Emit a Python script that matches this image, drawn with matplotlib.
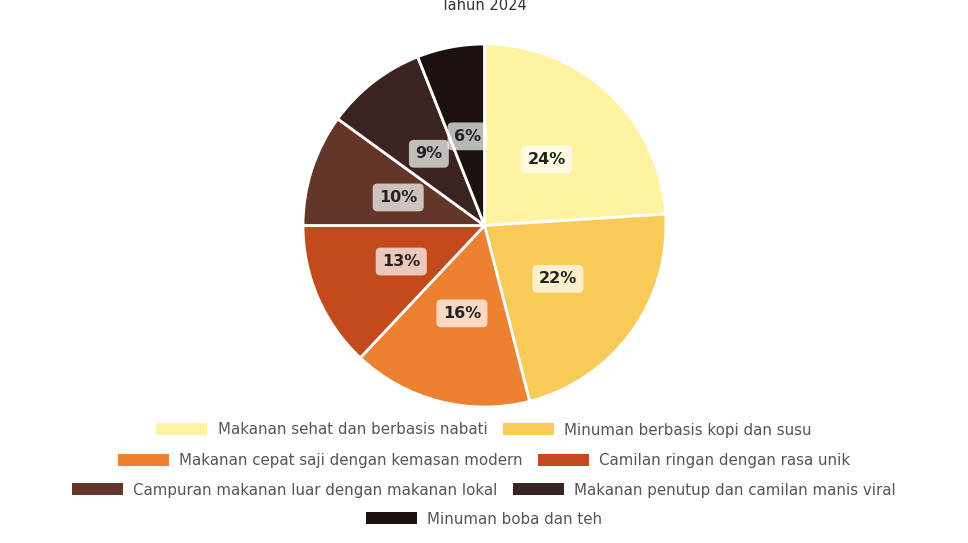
import matplotlib.pyplot as plt
from matplotlib.patches import Patch

# ---------------- DATA ----------------

categories = [
    "Makanan sehat dan berbasis nabati",
    "Minuman berbasis kopi dan susu",
    "Makanan cepat saji dengan kemasan modern",
    "Camilan ringan dengan rasa unik",
    "Campuran makanan luar dengan makanan lokal",
    "Makanan penutup dan camilan manis viral",
    "Minuman boba dan teh",
]
values = [24, 22, 16, 13, 10, 9, 6]
colors = ["#FEF3A0", "#F8CB58", "#EC8132", "#C24A1D", "#633629", "#3A2320", "#1B1210"]
title = "Tahun 2024"

plt.rcParams["font.family"] = ["DejaVu Sans"]

W, H = 968, 543
fig = plt.figure(figsize=(W / 100, H / 100), dpi=100)

# ---------------- PIE ----------------

cx, cy, r = 484.5, 225.5, 181.5
ax = fig.add_axes([(cx - r) / W, (H - cy - r) / H, 2 * r / W, 2 * r / H])

wedges, texts, autotexts = ax.pie(
    values,
    colors=colors,
    startangle=90,
    counterclock=False,
    autopct="%d%%",
    pctdistance=0.5,
    wedgeprops=dict(edgecolor="white", linewidth=2),
)
for t in autotexts:
    t.set_fontsize(11.5)
    t.set_fontweight("bold")
    t.set_color("#222222")
    t.set_bbox(dict(boxstyle="round,pad=0.4,rounding_size=0.3",
                    facecolor="white", edgecolor="none", alpha=0.7))
ax.set_xlim(-1, 1)
ax.set_ylim(-1, 1)

fig.text(0.5, 1 - 5 / H, title, ha="center", va="center",
         fontsize=10.5, color="#333333")

# ---------------- LEGEND ----------------

rows = [[0, 1], [2, 3], [4, 5], [6]]
row_y = [430, 461, 490, 519]
for idx, yy in zip(rows, row_y):
    handles = [Patch(facecolor=colors[i], edgecolor="none") for i in idx]
    labels = [categories[i] for i in idx]
    fig.legend(
        handles, labels,
        loc="center", bbox_to_anchor=(0.5, 1 - yy / H),
        ncol=len(idx), frameon=False, fontsize=10.8,
        handlelength=3.4, handleheight=0.85, handletextpad=0.7,
        columnspacing=1.0, labelcolor="#555555",
        borderpad=0, borderaxespad=0,
    )

fig.savefig("out.png", dpi=100)
